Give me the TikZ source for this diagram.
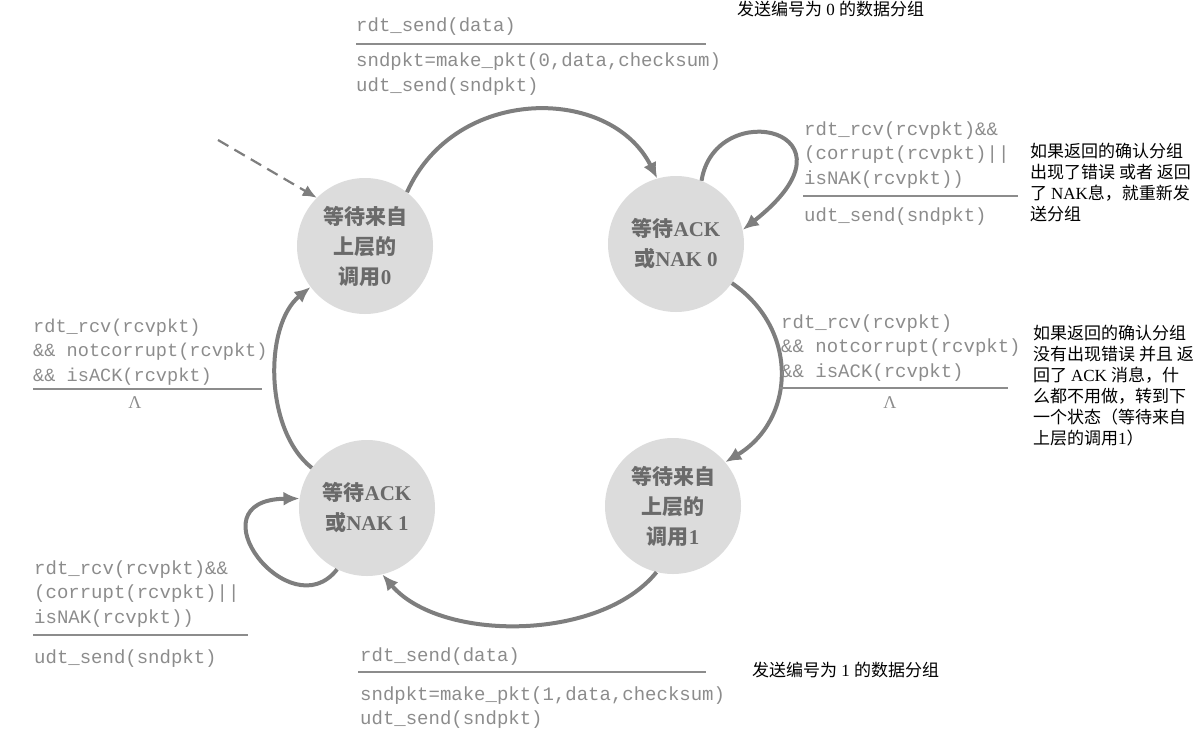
\documentclass[tikz,border=0pt]{standalone}
\usepackage{fontspec}
\setmainfont{Liberation Serif}
\newfontfamily\monof{Liberation Mono}
\newfontfamily\cjk{Noto Sans CJK SC}
\usetikzlibrary{arrows.meta}
\definecolor{stfill}{HTML}{DCDCDC}
\definecolor{sttext}{HTML}{6A6A6A}
\definecolor{arr}{HTML}{7E7E7E}
\definecolor{codec}{HTML}{8C8C8C}
\newcommand\zh[1]{{\cjk #1}}
\newcommand\tstrut{\rule{0pt}{18pt}}
\begin{document}
\begin{tikzpicture}[x=1pt,y=-1pt,
  state/.style={circle,fill=stfill,minimum size=136pt,inner sep=0pt,align=center,text=sttext,font=\fontsize{21}{30}\selectfont\bfseries},
  trans/.style={draw=arr,line width=4pt,-{Latex[length=16pt,width=14pt]}},
  code/.style={anchor=north west,inner sep=0pt,align=left,text=codec,font=\monof\fontsize{19}{24.5}\selectfont},
  rulel/.style={draw=codec,line width=1.8pt},
  note/.style={anchor=north west,inner sep=0pt,align=left,font=\fontsize{17}{21}\selectfont}]
\useasboundingbox (0,0) rectangle (1204,744);

% states
\node[state] (A) at (365,246) {\zh{等待来自}\\\zh{上层的}\\\zh{调用}0};
\node[state] (B) at (676,244) {\zh{等待}ACK\\\zh{或}NAK 0};
\node[state] (C) at (367,508) {\zh{等待}ACK\\\zh{或}NAK 1};
\node[state] (D) at (673,506) {\zh{等待来自}\\\zh{上层的}\\\zh{调用}1};

% transitions
\coordinate (init) at (218,140);
\draw[draw=arr,line width=2.2pt,dash pattern=on 12pt off 7pt,-{Latex[length=14pt,width=12pt]}] (init) -- (A.135);
\draw[trans] (A.52) .. controls (455,85) and (610,85) .. (B.106);
\draw[trans] (B.68) .. controls (715,95) and (870,130) .. (B.12);
\draw[trans] (B.-35) .. controls (800,330) and (795,420) .. (D.40);
\draw[trans] (D.-104) .. controls (600,642) and (440,642) .. (C.-77);
\draw[trans] (C.-116) .. controls (290,630) and (190,500) .. (C.172);
\draw[trans] (C.144) .. controls (264,430) and (264,325) .. (A.-143);

% top label
\node[code] (t0) at (356,13) {\tstrut rdt\_send(data)};
\draw[rulel] (356,44) -- (706,44);
\node[code,font=\monof\fontsize{19}{25}\selectfont] (t0b) at (356,48) {\tstrut sndpkt=make\_pkt(0,data,checksum)\\udt\_send(sndpkt)};
\node[anchor=west,inner sep=0pt,font=\fontsize{17}{21}\selectfont] (n0) at (737,9) {\zh{发送编号为} 0 \zh{的数据分组}};

% right top
\node[code] (t1) at (804,117) {\tstrut rdt\_rcv(rcvpkt)\&\&\\(corrupt(rcvpkt)||\\isNAK(rcvpkt))};
\draw[rulel] (803,196) -- (1018,196);
\node[code] (t1b) at (804,203) {\tstrut udt\_send(sndpkt)};
\node[note] (n1) at (1030,143) {\zh{如果返回的确认分组}\\\zh{出现了错误 或者 返回}\\\zh{了 }NAK\zh{息，就重新发}\\\zh{送分组}};

% right middle
\node[code] (t2) at (781,310) {\tstrut rdt\_rcv(rcvpkt)\\\&\& notcorrupt(rcvpkt)\\\&\& isACK(rcvpkt)};
\draw[rulel] (780,388) -- (1008,388);
\node[inner sep=0pt,text=codec,font=\fontsize{18}{18}\selectfont] (l2) at (890,403) {Λ};
\node[note] (n2) at (1033,325) {\zh{如果返回的确认分组}\\\zh{没有出现错误 并且 返}\\\zh{回了 }ACK \zh{消息，什}\\\zh{么都不用做，转到下}\\\zh{一个状态（等待来自}\\\zh{上层的调用}1\zh{）}};

% left middle
\node[code,font=\monof\fontsize{18.6}{24.5}\selectfont] (t3) at (33,314) {\tstrut rdt\_rcv(rcvpkt)\\\&\& notcorrupt(rcvpkt)\\\&\& isACK(rcvpkt)};
\draw[rulel] (33,389) -- (262,389);
\node[inner sep=0pt,text=codec,font=\fontsize{18}{18}\selectfont] (l3) at (135,403) {Λ};

% bottom left
\node[code] (t4) at (34,556) {\tstrut rdt\_rcv(rcvpkt)\&\&\\(corrupt(rcvpkt)||\\isNAK(rcvpkt))};
\draw[rulel] (33,635) -- (248,635);
\node[code] (t4b) at (34,645) {\tstrut udt\_send(sndpkt)};

% bottom
\node[code] (t5) at (360,643) {\tstrut rdt\_send(data)};
\draw[rulel] (358,672) -- (706,672);
\node[code] (t5b) at (360,682) {\tstrut sndpkt=make\_pkt(1,data,checksum)\\udt\_send(sndpkt)};
\node[anchor=west,inner sep=0pt,font=\fontsize{17}{21}\selectfont] (n5) at (752,670) {\zh{发送编号为} 1 \zh{的数据分组}};
\end{tikzpicture}
\end{document}
